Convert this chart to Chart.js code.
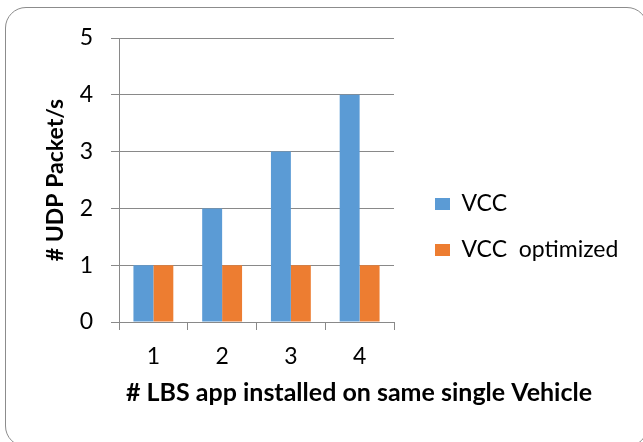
<!DOCTYPE html>
<html>
<head>
<meta charset="utf-8">
<script src="https://cdn.jsdelivr.net/npm/chart.js@4.4.1/dist/chart.umd.min.js"></script>
<style>
  html, body { margin: 0; padding: 0; background: #fff; overflow: hidden; }
  #wrap { position: relative; width: 643px; height: 442px; }
  #frame {
    position: absolute; left: 5px; top: 6.5px; width: 643px; height: 440px;
    box-sizing: border-box; border: 1.5px solid #8c8c8c; border-radius: 21px;
  }
  #chart { position: absolute; left: 0; top: 0; }
</style>
</head>
<body>
<div id="wrap">
  <div id="frame"></div>
  <canvas id="chart" width="643" height="442"></canvas>
</div>
<script>
// valores
const categorias = ['1', '2', '3', '4'];
const valoresVCC = [1, 2, 3, 4];
const valoresVCCOtimizado = [1, 1, 1, 1];
const nomesSeries = ['VCC', 'VCC  optimized'];
const eixoYMin = 0;
const eixoYMax = 5;
const eixoYPasso = 1;
const tituloX = '# LBS app installed on same single Vehicle';
const tituloY = '# UDP Packet/s';

const fonte = 'Lato, "Open Sans", sans-serif';
const cinzaGrade = '#898989';

// A legenda ocupa uma faixa fixa de 100px no layout; depois é alargada e reposicionada
const larguraLegendaLayout = 100;

// Posiciona a legenda como no original (mais abaixo e afastada do gráfico)
const ajusteLegenda = {
    id: 'ajusteLegenda',
    afterLayout(chart) {
        const lg = chart.legend;
        if (!lg) return;
        const h = lg.height;
        lg.left = 412; lg.right = 643; lg.width = lg.right - lg.left;
        lg.top = 169.5; lg.bottom = lg.top + h;
    }
};

// Título do eixo X, centrado como no original
const tituloEixoX = {
    id: 'tituloEixoX',
    afterDraw(chart) {
        const ctx = chart.ctx;
        ctx.save();
        ctx.font = 'bold 25px ' + fonte;
        ctx.fillStyle = '#000';
        ctx.textAlign = 'center';
        ctx.textBaseline = 'alphabetic';
        ctx.fillText(tituloX, 359, 401);
        ctx.restore();
    }
};

new Chart(document.getElementById('chart'), {
    type: 'bar',
    data: {
        labels: categorias,
        datasets: [
            { label: nomesSeries[0], data: valoresVCC, backgroundColor: '#5B9BD5', borderWidth: 0 },
            { label: nomesSeries[1], data: valoresVCCOtimizado, backgroundColor: '#ED7D31', borderWidth: 0 }
        ]
    },
    options: {
        responsive: false,
        animation: false,
        devicePixelRatio: 1,
        categoryPercentage: 0.58,
        barPercentage: 1.0,
        layout: { padding: { left: 42, top: 38, right: 643 - 394 - larguraLegendaLayout, bottom: 0 } },
        plugins: {
            tooltip: { enabled: false },
            legend: {
                position: 'right',
                align: 'start',
                maxWidth: larguraLegendaLayout,
                labels: {
                    boxWidth: 15,
                    boxHeight: 12,
                    padding: 23,
                    color: '#000',
                    font: { family: fonte, size: 23 }
                }
            }
        },
        scales: {
            x: {
                ticks: { padding: 13, color: '#000', font: { family: fonte, size: 23 } },
                grid: { drawOnChartArea: false, color: cinzaGrade, tickLength: 8, offset: true },
                border: { color: cinzaGrade },
                afterFit(s) { s.height = 120; }
            },
            y: {
                min: eixoYMin,
                max: eixoYMax,
                ticks: { stepSize: eixoYPasso, padding: 18, color: '#000', font: { family: fonte, size: 23 } },
                grid: { color: cinzaGrade, tickLength: 8 },
                border: { color: cinzaGrade },
                title: {
                    display: true, text: tituloY, color: '#000', padding: 0,
                    font: { family: fonte, size: 23, weight: 'bold' }
                },
                afterFit(s) { s.width = 77; }
            }
        }
    },
    plugins: [ajusteLegenda, tituloEixoX]
});
</script>
</body>
</html>
